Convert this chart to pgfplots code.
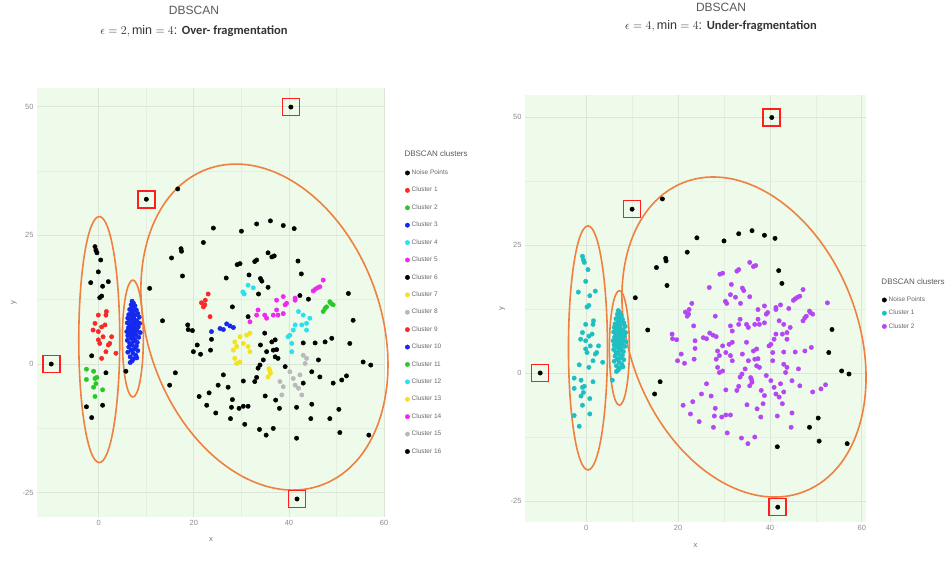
\documentclass[border=0pt]{standalone}
\usepackage{fontspec}
\setmainfont{Liberation Sans}
\newfontfamily\carl{Carlito}
\usepackage{pgfplots}
\usepackage{pgfplotstable}
\pgfplotsset{compat=1.18}
\definecolor{bgc}{RGB}{238,250,234}
\definecolor{gridc}{RGB}{220,230,216}
\definecolor{ell}{RGB}{240,128,64}
\definecolor{cred}{RGB}{250,40,40}
\definecolor{cgreen}{RGB}{40,200,40}
\definecolor{cblue}{RGB}{20,40,240}
\definecolor{ccyan}{RGB}{40,225,240}
\definecolor{cmag}{RGB}{240,40,240}
\definecolor{cyel}{RGB}{245,225,30}
\definecolor{cgray}{RGB}{185,185,185}
\definecolor{cteal}{RGB}{30,190,195}
\definecolor{cpurp}{RGB}{180,70,245}
\definecolor{boxr}{RGB}{255,30,30}

\pgfplotstableread{
x y L R
-10.0 0.0 n n
10.0 32.0 n n
40.4 49.9 n n
41.7 -26.2 n n
16.6 34.0 n n
24.1 26.4 n n
30.0 25.8 n n
33.2 27.2 n n
36.1 27.8 n n
38.8 26.9 n n
41.1 26.3 n n
22.0 23.6 n n
17.3 22.4 n n
17.4 21.9 n n
15.3 20.6 n n
17.6 17.1 n n
10.7 14.7 n n
29.1 19.3 n p
29.7 19.5 n p
32.8 19.9 n p
33.2 20.2 n p
35.6 21.6 n p
36.4 20.8 n p
36.9 21.0 n p
41.9 20.0 n n
42.6 17.5 n n
26.8 16.7 n p
31.6 17.3 n p
34.0 16.6 n p
34.3 16.1 n p
35.6 14.9 n p
33.6 13.6 n p
42.3 13.3 n p
44.1 12.6 n p
52.5 13.7 n p
28.1 11.1 n p
31.4 9.2 n p
53.5 8.5 n n
13.4 8.4 n n
18.7 7.6 n p
18.8 6.7 n p
19.7 6.5 n p
23.7 4.8 n p
20.7 3.7 n p
19.9 2.4 n p
21.4 1.9 n p
23.5 2.7 n p
-0.8 22.8 n t
-0.6 22.1 n t
-0.4 21.6 n t
0.4 20.2 n t
-0.1 17.9 n t
-1.7 15.8 n t
2.0 16.0 n t
0.8 15.1 n t
0.6 13.2 n t
0.2 12.9 n t
-1.5 1.6 n t
1.5 -1.7 n t
-2.6 -8.3 n t
-1.5 -10.4 n t
0.8 -8.0 n t
5.7 -1.4 n t
43.0 4.1 n p
45.5 4.1 n p
47.6 4.3 n p
49.0 5.0 n p
52.8 4.0 n n
46.2 0.8 n p
44.8 -1.5 n p
46.5 -2.5 n p
43.0 -3.7 n p
49.3 -3.7 n p
51.1 -3.1 n p
52.1 -2.3 n p
55.6 0.4 n n
57.2 -0.2 n n
16.1 -1.7 n n
14.9 -4.1 n n
21.1 -6.3 n p
23.2 -5.6 n p
22.7 -8.0 n p
24.6 -9.5 n p
35.0 -6.2 n p
37.2 -7.0 n p
38.0 -8.6 n p
41.6 -8.4 n p
44.8 -7.8 n p
50.5 -8.8 n n
44.6 -10.6 n p
48.6 -10.6 n n
50.7 -13.3 n n
41.6 -14.4 n n
56.8 -13.8 n n
26.2 -2.1 n p
27.2 -4.5 n p
25.1 -4.1 n p
30.4 -3.3 n p
32.8 -3.4 n p
33.2 -2.6 n p
-0.1 9.5 c1 t
1.6 10.2 c1 t
1.5 9.5 c1 t
-0.8 7.9 c1 t
-1.2 6.6 c1 t
-0.1 6.3 c1 t
0.6 7.2 c1 t
1.3 7.6 c1 t
0.9 5.3 c1 t
-0.1 4.7 c1 t
0.2 4.0 c1 t
2.0 3.7 c1 t
2.7 5.3 c1 t
2.3 4.0 c1 t
1.5 2.4 c1 t
0.6 1.1 c1 t
3.6 2.1 c1 t
-2.6 -1.0 c2 t
-1.1 -1.4 c2 t
-2.6 -3.0 c2 t
-0.8 -2.8 c2 t
-0.4 -2.6 c2 t
-0.6 -3.8 c2 t
-1.1 -4.5 c2 t
-0.8 -6.3 c2 t
0.8 -5.0 c2 t
7.0 12.2 c3 t
7.3 11.8 c3 t
6.8 11.5 c3 t
7.6 11.3 c3 t
7.1 10.9 c3 t
6.5 10.6 c3 t
7.9 10.5 c3 t
7.3 10.2 c3 t
6.9 9.9 c3 t
8.2 9.8 c3 t
6.3 9.6 c3 t
7.6 9.5 c3 t
7.0 9.2 c3 t
8.5 9.1 c3 t
6.1 8.9 c3 t
7.4 8.8 c3 t
6.7 8.5 c3 t
8.0 8.4 c3 t
7.2 8.1 c3 t
6.0 8.0 c3 t
8.6 7.9 c3 t
7.7 7.7 c3 t
6.5 7.6 c3 t
7.0 7.3 c3 t
8.3 7.2 c3 t
6.2 7.0 c3 t
7.5 6.9 c3 t
6.8 6.6 c3 t
8.0 6.5 c3 t
5.9 6.3 c3 t
7.3 6.2 c3 t
8.7 6.1 c3 t
6.6 5.9 c3 t
7.8 5.7 c3 t
6.1 5.5 c3 t
7.1 5.4 c3 t
8.4 5.2 c3 t
6.8 5.0 c3 t
7.6 4.8 c3 t
6.0 4.6 c3 t
7.3 4.4 c3 t
8.1 4.2 c3 t
6.5 4.0 c3 t
7.0 3.7 c3 t
7.9 3.5 c3 t
6.3 3.3 c3 t
7.5 3.0 c3 t
6.8 2.7 c3 t
8.2 2.6 c3 t
6.1 2.3 c3 t
7.2 2.1 c3 t
7.8 1.7 c3 t
6.6 1.4 c3 t
7.3 1.0 c3 t
7.0 0.6 c3 t
6.6 0.3 c3 t
8.0 1.2 c3 t
31.4 15.3 c4 p
32.5 14.8 c4 p
30.3 14.0 c4 p
30.6 13.6 c4 p
47.2 16.3 c5 p
46.5 15.0 c5 p
45.5 14.5 c5 p
45.1 14.2 c5 p
46.0 14.8 c5 p
34.9 6.0 c6 p
34.0 3.7 c6 p
36.4 4.3 c6 p
37.1 4.7 c6 p
35.3 2.4 c6 p
36.7 2.7 c6 p
37.4 2.8 c6 p
37.7 1.1 c6 p
37.1 1.4 c6 p
34.6 0.8 c6 p
33.9 -0.2 c6 p
33.5 -0.8 c6 p
39.2 -0.5 c6 p
28.6 4.3 c7 p
29.7 5.3 c7 p
31.1 5.6 c7 p
31.8 6.0 c7 p
29.0 3.4 c7 p
28.3 2.7 c7 p
30.4 4.0 c7 p
31.4 3.4 c7 p
31.8 2.4 c7 p
28.6 1.1 c7 p
29.0 0.1 c7 p
29.7 0.4 c7 p
43.0 1.7 c8 p
43.7 1.1 c8 p
43.4 0.1 c8 p
40.2 -1.5 c8 p
40.9 -2.8 c8 p
42.3 -2.1 c8 p
23.0 13.6 c9 p
21.6 11.9 c9 p
22.3 11.5 c9 p
22.0 11.1 c9 p
23.4 9.2 c9 p
22.4 12.4 c9 p
23.7 6.3 c10 p
25.5 6.9 c10 p
26.2 6.7 c10 p
26.9 7.8 c10 p
27.6 7.4 c10 p
28.3 7.1 c10 p
48.6 12.1 c11 p
49.3 11.5 c11 p
47.9 11.1 c11 p
47.2 10.2 c11 p
47.6 10.8 c11 p
48.8 11.8 c11 p
42.0 10.2 c12 p
43.0 9.5 c12 p
44.4 8.9 c12 p
43.7 7.9 c12 p
42.7 7.6 c12 p
43.7 6.6 c12 p
40.9 6.6 c12 p
40.2 5.6 c12 p
39.8 5.3 c12 p
40.6 4.0 c12 p
40.6 2.4 c12 p
41.3 7.6 c12 p
36.0 -1.3 c13 p
35.6 -2.5 c13 p
36.1 -1.8 c13 p
35.8 -0.9 c13 p
38.8 13.1 c14 p
37.4 12.4 c14 p
39.5 11.8 c14 p
41.3 12.8 c14 p
33.5 10.5 c14 p
33.2 9.5 c14 p
34.9 9.5 c14 p
35.3 8.9 c14 p
36.7 9.5 c14 p
37.7 9.5 c14 p
38.8 9.8 c14 p
37.4 10.5 c14 p
39.2 11.5 c14 p
41.3 12.4 c14 p
31.8 8.2 c14 p
38.1 -3.4 c15 p
38.8 -4.4 c15 p
38.5 -6.0 c15 p
41.3 -4.1 c15 p
42.0 -4.7 c15 p
42.7 -6.0 c15 p
28.1 -6.9 c16 p
27.9 -8.4 c16 p
29.5 -8.6 c16 p
30.4 -8.2 c16 p
31.4 -8.2 c16 p
27.7 -10.6 c16 p
30.7 -11.7 c16 p
33.8 -12.7 c16 p
35.2 -13.8 c16 p
36.7 -12.5 c16 p
}\pts

\pgfplotsset{panel/.style={
  scale only axis, anchor=south west, axis line style={draw=none},
  axis background/.style={fill=bgc},
  major tick length=0pt, minor tick length=0pt,
  xtick={0,20,40,60}, ytick={-25,0,25,50},
  minor xtick={10,30,50}, minor ytick={-12.5,12.5,37.5},
  grid=both, major grid style={gridc, line width=0.8pt},
  minor grid style={gridc!55!bgc, line width=0.6pt},
  tick label style={font=\fontsize{7.5}{8}\selectfont, text=black!45},
  /pgf/number format/assume math mode=true,
  xlabel=x, ylabel=y, label style={font=\fontsize{7.5}{8}\selectfont, text=black!55},
  clip=false,
  legend cell align=left,
}}

\begin{document}
\begin{tikzpicture}
\useasboundingbox (0,0) rectangle (945pt,560pt);
\node[font=\fontsize{12}{14}\selectfont, text=black!65] at (194pt,550pt) {DBSCAN};
\node[font=\fontsize{12.5}{14}\selectfont, text=black!80] at (194pt,529pt) {$\epsilon = 2, \min = 4$: {\carl\bfseries Over- fragmentation}};
\node[font=\fontsize{12}{14}\selectfont, text=black!65] at (721pt,553pt) {DBSCAN};
\node[font=\fontsize{12.5}{14}\selectfont, text=black!80] at (721pt,534pt) {$\epsilon = 4, \min = 4$: {\carl\bfseries Under-fragmentation}};

\begin{axis}[panel, at={(37pt,43pt)}, width=348pt, height=429pt,
  xmin=-13, xmax=60.2, ymin=-29.7, ymax=53.6,
  xlabel style={at={(axis description cs:0.5,-0.052)}, anchor=center},
  ylabel style={at={(axis description cs:-0.066,0.5)}, anchor=center},
  legend style={at={(1.049,0.819)}, anchor=north west, draw=none, fill=none,
    font=\fontsize{6.5}{7}\selectfont, text=black!60, row sep=7.2pt}]
\addplot[scatter, only marks, mark size=2.2pt, scatter src=explicit symbolic,
  scatter/classes={n={mark=*,black}, c1={mark=*,cred}, c2={mark=*,cgreen}, c3={mark=*,cblue},
   c4={mark=*,ccyan}, c5={mark=*,cmag}, c6={mark=*,black}, c7={mark=*,cyel}, c8={mark=*,cgray},
   c9={mark=*,cred}, c10={mark=*,cblue}, c11={mark=*,cgreen}, c12={mark=*,ccyan},
   c13={mark=*,cyel}, c14={mark=*,cmag}, c15={mark=*,cgray}, c16={mark=*,black}}]
  table[x=x, y=y, meta=L]{\pts};
\legend{Noise Points, Cluster 1, Cluster 2, Cluster 3, Cluster 4, Cluster 5, Cluster 6, Cluster 7, Cluster 8, Cluster 9, Cluster 10, Cluster 11, Cluster 12, Cluster 13, Cluster 14, Cluster 15, Cluster 16}
\draw[ell, line width=1.6pt] (axis cs:0.1,4.75) ellipse [x radius=20.5pt, y radius=123pt];
\draw[ell, line width=1.6pt] (axis cs:7.16,4.95) ellipse [x radius=10.5pt, y radius=58.5pt];
\draw[ell, line width=1.6pt, rotate around={-70.3:(axis cs:34.84,7.18)}] (axis cs:34.84,7.18) ellipse [x radius=168pt, y radius=116.6pt];
\draw[boxr, line width=1.6pt] ([shift={(-8.5pt,-8.5pt)}]axis cs:-10,0) rectangle ++(17pt,17pt);
\draw[boxr, line width=1.6pt] ([shift={(-8.5pt,-8.5pt)}]axis cs:10,32) rectangle ++(17pt,17pt);
\draw[boxr, line width=1.6pt] ([shift={(-8.5pt,-8.5pt)}]axis cs:40.4,49.9) rectangle ++(17pt,17pt);
\draw[boxr, line width=1.6pt] ([shift={(-8.5pt,-8.5pt)}]axis cs:41.7,-26.2) rectangle ++(17pt,17pt);
\node[anchor=west, font=\fontsize{8}{9}\selectfont, text=black!65] at (axis description cs:1.046,0.848) {DBSCAN clusters};
\end{axis}

\begin{axis}[panel, at={(525pt,38pt)}, width=341pt, height=427pt,
  xmin=-13.3, xmax=60.9, ymin=-29.1, ymax=54.3,
  xlabel style={at={(axis description cs:0.5,-0.056)}, anchor=center},
  ylabel style={at={(axis description cs:-0.067,0.5)}, anchor=center},
  legend style={at={(1.038,0.537)}, anchor=north west, draw=none, fill=none,
    font=\fontsize{6.5}{7}\selectfont, text=black!60, row sep=3pt}]
\addplot[scatter, only marks, mark size=2.2pt, scatter src=explicit symbolic,
  scatter/classes={n={mark=*,black}, t={mark=*,cteal}, p={mark=*,cpurp}}]
  table[x=x, y=y, meta=R]{\pts};
\legend{Noise Points, Cluster 1, Cluster 2}
\draw[ell, line width=1.6pt] (axis cs:0.4,4.9) ellipse [x radius=19.5pt, y radius=122pt];
\draw[ell, line width=1.6pt] (axis cs:7.24,4.9) ellipse [x radius=10pt, y radius=57.3pt];
\draw[ell, line width=1.6pt, rotate around={-68.7:(axis cs:34.35,7.03)}] (axis cs:34.35,7.03) ellipse [x radius=165.9pt, y radius=113.9pt];
\draw[boxr, line width=1.6pt] ([shift={(-8.5pt,-8.5pt)}]axis cs:-10,0) rectangle ++(17pt,17pt);
\draw[boxr, line width=1.6pt] ([shift={(-8.5pt,-8.5pt)}]axis cs:10,32) rectangle ++(17pt,17pt);
\draw[boxr, line width=1.6pt] ([shift={(-8.5pt,-8.5pt)}]axis cs:40.4,49.9) rectangle ++(17pt,17pt);
\draw[boxr, line width=1.6pt] ([shift={(-8.5pt,-8.5pt)}]axis cs:41.7,-26.2) rectangle ++(17pt,17pt);
\node[anchor=west, font=\fontsize{8}{9}\selectfont, text=black!65] at (axis description cs:1.035,0.562) {DBSCAN clusters};
\end{axis}
\end{tikzpicture}
\end{document}
